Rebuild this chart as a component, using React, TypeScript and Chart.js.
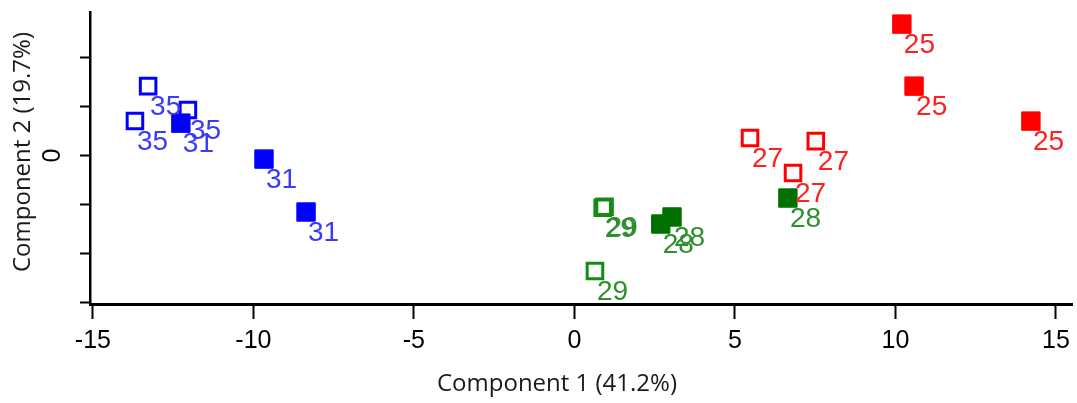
import React, { useEffect, useRef } from "react";
import { Chart, registerables } from "chart.js";

Chart.register(...registerables);

// Group labels
const groupLabels = ["35", "31", "29", "28", "27", "25"];

// Component 1 / Component 2 scores per group
const s35X = [-13.28, -12.04, -13.69];
const s35Y = [7.11, 4.66, 3.53];
const s31X = [-12.26, -9.67, -8.36];
const s31Y = [3.32, -0.36, -5.78];
const s29X = [0.88, 0.94, 0.64];
const s29Y = [-5.35, -5.25, -11.82];
const s28X = [6.65, 2.69, 3.04];
const s28Y = [-4.35, -7.01, -6.29];
const s27X = [5.47, 7.52, 6.81];
const s27Y = [1.79, 1.48, -1.79];
const s25X = [10.2, 10.58, 14.22];
const s25Y = [13.46, 7.11, 3.53];

// Tick values
const xTicks = [-15, -10, -5, 0, 5, 10, 15];
const yTicks = [-15, -10, -5, 0, 5, 10];

const xTitle = "Component 1 (41.2%)";
const yTitle = "Component 2 (19.7%)";

const toPts = (xs: number[], ys: number[]) => xs.map((x, i) => ({ x, y: ys[i] }));

export default function App() {
  const ref = useRef<HTMLCanvasElement | null>(null);

  useEffect(() => {
    if (!ref.current) return;
    const open = (label: string, xs: number[], ys: number[], color: string, textColor: string) => ({
      label,
      data: toPts(xs, ys),
      pointStyle: "rect",
      pointRadius: 11,
      pointBorderWidth: 3,
      pointBackgroundColor: "rgba(255,255,255,0)",
      pointBorderColor: color,
      showLine: false,
      textColor,
    });
    const filled = (label: string, xs: number[], ys: number[], color: string, textColor: string) => ({
      label,
      data: toPts(xs, ys),
      pointStyle: "rect",
      pointRadius: 13,
      pointBorderWidth: 1,
      pointBackgroundColor: color,
      pointBorderColor: color,
      showLine: false,
      textColor,
    });

    const labelPlugin = {
      id: "pointLabels",
      afterDatasetsDraw(chart: any) {
        const ctx = chart.ctx;
        ctx.save();
        ctx.font = "28px 'Liberation Sans', Arial, sans-serif";
        ctx.textAlign = "left";
        ctx.textBaseline = "alphabetic";
        chart.data.datasets.forEach((ds: any, di: number) => {
          const meta = chart.getDatasetMeta(di);
          ctx.fillStyle = ds.textColor;
          meta.data.forEach((el: any) => {
            ctx.fillText(ds.label, el.x + 2, el.y + 29);
          });
        });
        ctx.restore();
      },
    };

    const titlePlugin = {
      id: "axisTitles",
      afterDraw(chart: any) {
        const ctx = chart.ctx;
        ctx.save();
        ctx.font = "24px 'Open Sans', sans-serif";
        ctx.fillStyle = "#1a1a1a";
        ctx.textAlign = "center";
        ctx.textBaseline = "middle";
        ctx.fillText(xTitle, 557, 384);
        ctx.translate(23, 152);
        ctx.rotate(-Math.PI / 2);
        ctx.fillText(yTitle, 0, 0);
        ctx.restore();
      },
    };

    const chart = new Chart(ref.current, {
      type: "scatter",
      data: {
        datasets: [
          open(groupLabels[0], s35X, s35Y, "#0000ff", "#3b3bf5"),
          filled(groupLabels[1], s31X, s31Y, "#0000ff", "#3b3bf5"),
          open(groupLabels[2], s29X, s29Y, "#148c14", "#2f8f2f"),
          filled(groupLabels[3], s28X, s28Y, "#007000", "#2f8f2f"),
          open(groupLabels[4], s27X, s27Y, "#ff0000", "#ff2020"),
          filled(groupLabels[5], s25X, s25Y, "#ff0000", "#ff2020"),
        ] as any,
      },
      options: {
        animation: false,
        responsive: false,
        maintainAspectRatio: false,
        devicePixelRatio: 1,
        layout: { autoPadding: false, padding: { top: 12, right: 5, left: 0, bottom: 0 } },
        plugins: {
          legend: { display: false },
          tooltip: { enabled: false },
        },
        scales: {
          x: {
            type: "linear",
            position: "bottom",
            min: -15.09,
            max: 15.5,
            bounds: "data",
            afterBuildTicks: (s: any) => {
              s.ticks = xTicks.map((v) => ({ value: v }));
            },
            ticks: {
              maxRotation: 0,
              color: "#000",
              padding: 7,
              font: { family: "'Liberation Sans', Arial, sans-serif", size: 25 },
            },
            grid: {
              display: true,
              drawOnChartArea: false,
              drawTicks: true,
              tickLength: 15,
              tickWidth: 2,
              tickColor: "#000",
            },
            border: { display: true, color: "#000", width: 3 },
            afterFit: (s: any) => {
              s.height = 99;
              s.paddingLeft = 0;
              s.paddingRight = 0;
              s.paddingTop = 0;
              s.paddingBottom = 0;
            },
          },
          y: {
            type: "linear",
            position: "left",
            min: -15.2,
            max: 14.7,
            bounds: "data",
            afterBuildTicks: (s: any) => {
              s.ticks = yTicks.map((v) => ({ value: v }));
            },
            ticks: {
              minRotation: 90,
              maxRotation: 90,
              crossAlign: "center",
              padding: 20,
              color: "#000",
              font: { family: "'Liberation Sans', Arial, sans-serif", size: 25 },
              callback: (v: any) => (Number(v) === 0 ? "0" : ""),
            },
            grid: {
              display: true,
              drawOnChartArea: false,
              drawTicks: true,
              tickLength: 10,
              tickWidth: 2,
              tickColor: "#000",
            },
            border: { display: true, color: "#000", width: 2.5 },
            afterFit: (s: any) => {
              s.width = 90;
              s.paddingLeft = 0;
              s.paddingRight = 0;
              s.paddingTop = 0;
              s.paddingBottom = 0;
            },
          },
        } as any,
      },
      plugins: [labelPlugin, titlePlugin],
    });
    return () => chart.destroy();
  }, []);

  return (
    <div style={{ position: "fixed", left: 0, top: 0, width: 1077, height: 403, background: "#fff" }}>
      <canvas ref={ref} width={1077} height={403} style={{ display: "block" }} />
    </div>
  );
}
